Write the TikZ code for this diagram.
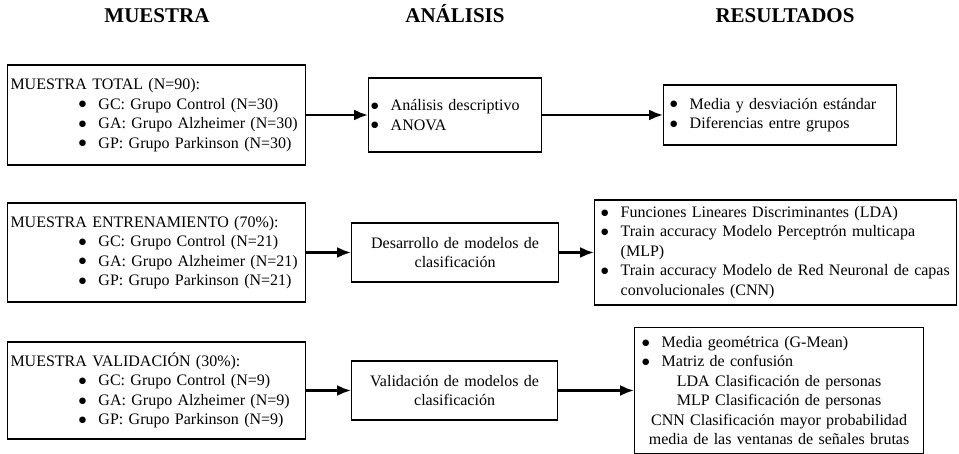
\documentclass[tikz,border=0pt]{standalone}
\usepackage{fontspec}
\setmainfont{Liberation Serif}
\newfontfamily\symfont{DejaVu Sans}
\usepackage{tikz}
\usetikzlibrary{arrows.meta,positioning}
\tikzstyle{block} = [draw, rectangle, line width=1.2pt, inner ysep=0pt,
    align=left, font=\fontsize{16}{19.5}\selectfont]
\tikzstyle{header} = [anchor=base, font=\fontsize{21}{24}\selectfont\bfseries]
\tikzstyle{connector} = [-{Latex[length=14pt,width=11pt]}, line width=2.6pt]
\newcommand{\bul}{\makebox[20pt][l]{\hspace*{0.5pt}\raisebox{2.2pt}{\symfont\fontsize{8.5}{8.5}\selectfont ●}}}
\newcommand{\sub}{\hspace*{68pt}\bul}

\begin{document}
\begin{tikzpicture}[x=1pt,y=-1pt]
		\useasboundingbox (0,0) rectangle (959,454);
		\node[header] at (157,23) {MUESTRA};
		\node[header] at (455,23) {ANÁLISIS};
		\node[header] at (785,23) {RESULTADOS};

		% fila 1
		\node[block, inner xsep=3pt, text width=292pt, minimum height=100pt] (mtot) at (156.5,115)
			{MUESTRA TOTAL (N=90):\\ \sub GC: Grupo Control (N=30)\\
			 \sub GA: Grupo Alzheimer (N=30)\\ \sub GP: Grupo Parkinson (N=30)};
		\node[block, inner xsep=2pt, text width=168.8pt, minimum height=74pt, right=62pt of mtot] (aest)
			{\bul Análisis descriptivo\\ \bul ANOVA};
		\node[block, inner xsep=6pt, text width=220.8pt, minimum height=60pt, right=121pt of aest] (rest)
			{\bul Media y desviación estándar\\ \bul Diferencias entre grupos};

		% fila 2
		\node[block, inner xsep=3pt, text width=292pt, minimum height=99pt] (ment) at (156.5,252.5)
			{MUESTRA ENTRENAMIENTO (70\%):\\ \sub GC: Grupo Control (N=21)\\
			 \sub GA: Grupo Alzheimer (N=21)\\ \sub GP: Grupo Parkinson (N=21)};
		\node[block, align=center, inner xsep=3pt, text width=200.8pt, minimum height=59pt, right=45pt of ment] (amod)
			{Desarrollo de modelos de\\ clasificación};
		\node[block, inner xsep=6pt, text width=349.8pt, minimum height=105pt, right=35pt of amod] (rmod)
			{\bul Funciones Lineares Discriminantes (LDA)\\
			 \bul Train accuracy Modelo Perceptrón multicapa\\ \hspace*{20pt}(MLP)\\
			 \bul Train accuracy Modelo de Red Neuronal de capas\\ \hspace*{20pt}convolucionales (CNN)};

		% fila 3
		\node[block, inner xsep=3pt, text width=292pt, minimum height=97pt] (mval) at (156.5,390.5)
			{MUESTRA VALIDACIÓN (30\%):\\ \sub GC: Grupo Control (N=9)\\
			 \sub GA: Grupo Alzheimer (N=9)\\ \sub GP: Grupo Parkinson (N=9)};
		\node[block, align=center, inner xsep=3pt, text width=199.8pt, minimum height=59pt, right=45pt of mval] (aval)
			{Validación de modelos de\\ clasificación};
		\node[block, inner xsep=7pt, text width=274.8pt, minimum height=126pt, right=76pt of aval] (rval)
			{\bul Media geométrica (G-Mean)\\ \bul Matriz de confusión\\
			 \makebox[\linewidth]{LDA Clasificación de personas}\\
			 \makebox[\linewidth]{MLP Clasificación de personas}\\
			 \makebox[\linewidth]{CNN Clasificación mayor probabilidad}\\
			 \makebox[\linewidth]{media de las ventanas de señales brutas}};

		\draw[connector] (mtot) to (aest);
		\draw[connector] (aest) to (rest);
		\draw[connector] (ment) to (amod);
		\draw[connector] (amod) to (rmod);
		\draw[connector] (mval) to (aval);
		\draw[connector] (aval) to (rval);
	\end{tikzpicture}
\end{document}
